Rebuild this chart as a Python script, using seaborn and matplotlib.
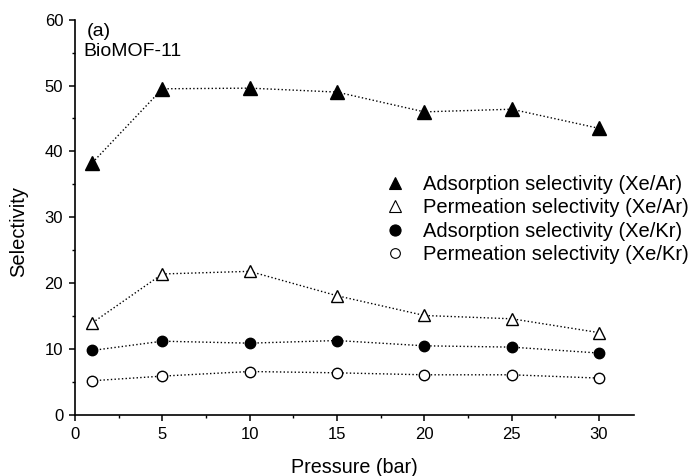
import matplotlib
matplotlib.use("Agg")
import matplotlib.pyplot as plt
from matplotlib.lines import Line2D
from matplotlib.ticker import MultipleLocator
import seaborn as sns
import pandas as pd

pressure = [1, 5, 10, 15, 20, 25, 30]
ads_xe_ar = [38.3, 49.5, 49.6, 49.0, 46.0, 46.4, 43.5]
perm_xe_ar = [14.0, 21.4, 21.8, 18.1, 15.1, 14.6, 12.5]
ads_xe_kr = [9.8, 11.2, 10.9, 11.3, 10.5, 10.3, 9.4]
perm_xe_kr = [5.2, 5.9, 6.6, 6.4, 6.1, 6.1, 5.6]

labels = ["Adsorption selectivity (Xe/Ar)",
          "Permeation selectivity (Xe/Ar)",
          "Adsorption selectivity (Xe/Kr)",
          "Permeation selectivity (Xe/Kr)"]

sns.set_theme(style="ticks")
plt.rcParams['font.family'] = ['Liberation Sans', 'DejaVu Sans']
plt.rcParams['text.color'] = 'black'
plt.rcParams['axes.labelcolor'] = 'black'

fig = plt.figure(figsize=(6.95, 4.76), dpi=100)
ax = fig.add_axes([75/695, 1-415/476, (634-75)/695, (415-19.6)/476])

series = [ads_xe_ar, perm_xe_ar, ads_xe_kr, perm_xe_kr]
markers = ['^', '^', 'o', 'o']
faces = ['black', 'white', 'black', 'white']
sizes = [9.5, 9.0, 7.5, 7.5]

for vals, mk, fc, ms, lab in zip(series, markers, faces, sizes, labels):
    df = pd.DataFrame({"Pressure": pressure, "Selectivity": vals})
    sns.lineplot(data=df, x="Pressure", y="Selectivity", ax=ax, color='black',
                 linestyle=':', linewidth=1.0, marker=mk, markersize=ms,
                 markerfacecolor=fc, markeredgecolor='black', markeredgewidth=1.0,
                 legend=False)

ax.set_xlim(0, 32)
ax.set_ylim(0, 60)
ax.xaxis.set_major_locator(MultipleLocator(5))
ax.xaxis.set_minor_locator(MultipleLocator(2.5))
ax.yaxis.set_major_locator(MultipleLocator(10))
ax.yaxis.set_minor_locator(MultipleLocator(5))
sns.despine(ax=ax)
for s in ['left', 'bottom']:
    ax.spines[s].set_linewidth(1.2)
    ax.spines[s].set_color('black')
ax.tick_params(which='major', direction='out', length=4.5, width=1.1, labelsize=12, pad=4, colors='black')
ax.tick_params(which='minor', direction='out', length=2.5, width=1.0, colors='black')

ax.set_xlabel("Pressure (bar)", fontsize=14.2, labelpad=12, color='black')
ax.set_ylabel("Selectivity", fontsize=14.5, color='black')
ax.yaxis.set_label_coords(-0.084, 0.465)

ax.text(87/695, 1-31/476, "(a)", transform=fig.transFigure, fontsize=14, va='center', ha='left', color='black')
ax.text(83/695, 1-51.5/476, "BioMOF-11", transform=fig.transFigure, fontsize=14, va='center', ha='left', color='black')

handles = [Line2D([], [], linestyle='none', marker=mk, markersize=ms, markerfacecolor=fc,
                  markeredgecolor='black', markeredgewidth=0.8)
           for mk, fc, ms in zip(markers, faces, [9, 8, 8, 7])]
leg = ax.legend(handles, labels, loc='upper left', bbox_to_anchor=(385/695, 1-175/476),
                bbox_transform=fig.transFigure, frameon=False, fontsize=14.5,
                handlelength=1.0, handletextpad=0.9, labelspacing=0.22,
                borderpad=0, borderaxespad=0)
for t in leg.get_texts():
    t.set_color('black')

fig.savefig("out.png", dpi=100)
